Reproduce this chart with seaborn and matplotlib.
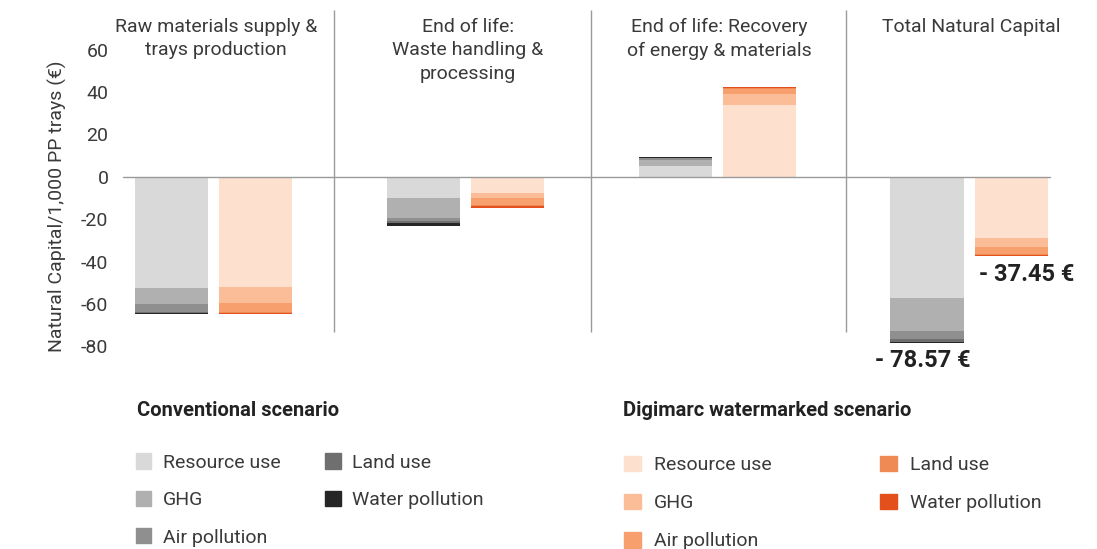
import numpy as np
import matplotlib.pyplot as plt
import seaborn as sns
from matplotlib.patches import Patch

# Stages (panels) and impact categories
stages = ["Raw materials supply &\ntrays production",
          "End of life:\nWaste handling &\nprocessing",
          "End of life: Recovery\nof energy & materials",
          "Total Natural Capital"]
impacts = ["Resource use", "GHG", "Air pollution", "Land use", "Water pollution"]

# Conventional scenario (€ / 1,000 PP trays)
conv_resource = [-52.4, -9.8, 5.0, -57.0]
conv_ghg = [-7.5, -9.6, 2.8, -16.0]
conv_air = [-4.0, -1.6, 1.0, -3.6]
conv_land = [-0.4, -0.8, 0.2, -1.3]
conv_water = [-0.6, -1.2, 0.3, -0.67]

# Digimarc watermarked scenario
dig_resource = [-52.0, -7.8, 33.8, -29.0]
dig_ghg = [-7.6, -2.1, 5.5, -4.2]
dig_air = [-4.2, -3.4, 2.3, -3.0]
dig_land = [-0.6, -0.6, 0.5, -0.9]
dig_water = [-0.6, -1.0, 0.35, -0.35]

yticks = [60, 40, 20, 0, -20, -40, -60, -80]

grey_colors = ["#d9d9d9", "#b0b0b0", "#8f8f8f", "#6f6f6f", "#262626"]
orange_colors = ["#fde0cd", "#fbbd97", "#f7a06e", "#f08a55", "#e4501b"]

sns.set_theme(style="white")
plt.rcParams["font.family"] = ["Roboto", "DejaVu Sans"]
plt.rcParams["axes.unicode_minus"] = False
text_col = "#3a3a3a"
fs = 14

fig = plt.figure(figsize=(10.97, 5.49), dpi=100)
ax = fig.add_axes([0.1027, 0.350, 0.884, 0.6365])

x = np.arange(len(stages))
width = 0.29
offset = 0.167

conv = np.array([conv_resource, conv_ghg, conv_air, conv_land, conv_water])
dig = np.array([dig_resource, dig_ghg, dig_air, dig_land, dig_water])

for data, colors, dx in [(conv, grey_colors, -offset), (dig, orange_colors, offset)]:
    bottom = np.zeros(len(stages))
    for i in range(len(impacts)):
        ax.bar(x + dx, data[i], width, bottom=bottom, color=colors[i], linewidth=0)
        bottom = bottom + data[i]

# zero line and panel separators
ax.plot([-0.36, 3.32], [0, 0], color="#9a9a9a", lw=1)
ax.vlines([0.48, 1.5, 2.51], -73.5, 79, color="#9a9a9a", lw=1)

for xi, name in zip(x, stages):
    ax.text(xi + 0.01, 0.97, name, transform=ax.get_xaxis_transform(),
            ha="center", va="top", fontsize=fs, color=text_col, linespacing=1.4)

# total labels
conv_total = conv[:, 3].sum()
dig_total = dig[:, 3].sum()
ax.annotate(f"- {abs(conv_total):.2f} €", (3 - offset, conv_total), xytext=(-3, -4),
            textcoords="offset points", ha="center", va="top",
            fontsize=17, fontweight="bold", color="#222222")
ax.annotate(f"- {abs(dig_total):.2f} €", (3 + offset, dig_total), xytext=(11, -5),
            textcoords="offset points", ha="center", va="top",
            fontsize=17, fontweight="bold", color="#222222")

ax.set_xlim(-0.4, 3.45)
ax.set_ylim(-85, 80)
ax.set_xticks([])
ax.set_yticks(yticks)
ax.tick_params(axis="y", length=0, pad=3, labelsize=fs, labelcolor=text_col)
ax.set_ylabel("Natural Capital/1,000 PP trays (€)", fontsize=fs, color=text_col)
ax.yaxis.set_label_coords(-0.047, 0.43)
sns.despine(ax=ax, left=True, bottom=True)

# legends
fig.text(137 / 1097, 1 - 411 / 549, "Conventional scenario", fontsize=14.5,
         fontweight="bold", color="#222222", va="center")
fig.text(623 / 1097, 1 - 411 / 549, "Digimarc watermarked scenario", fontsize=14.5,
         fontweight="bold", color="#222222", va="center")

conv_handles = [Patch(color=c, label=l) for c, l in zip(grey_colors, impacts)]
dig_handles = [Patch(color=c, label=l) for c, l in zip(orange_colors, impacts)]
fig.legend(handles=conv_handles, ncol=2, loc="upper left",
           bbox_to_anchor=(118 / 1097, 1 - 436 / 549), frameon=False,
           fontsize=fs, handlelength=0.82, handleheight=0.82, handletextpad=0.57,
           columnspacing=2.3, labelspacing=0.98, labelcolor=text_col)
fig.legend(handles=dig_handles, ncol=2, loc="upper left",
           bbox_to_anchor=(606 / 1097, 1 - 438 / 549), frameon=False,
           fontsize=fs, handlelength=0.88, handleheight=0.88, handletextpad=0.67,
           columnspacing=5.6, labelspacing=1.0, labelcolor=text_col)

fig.savefig("out.png", dpi=100)
